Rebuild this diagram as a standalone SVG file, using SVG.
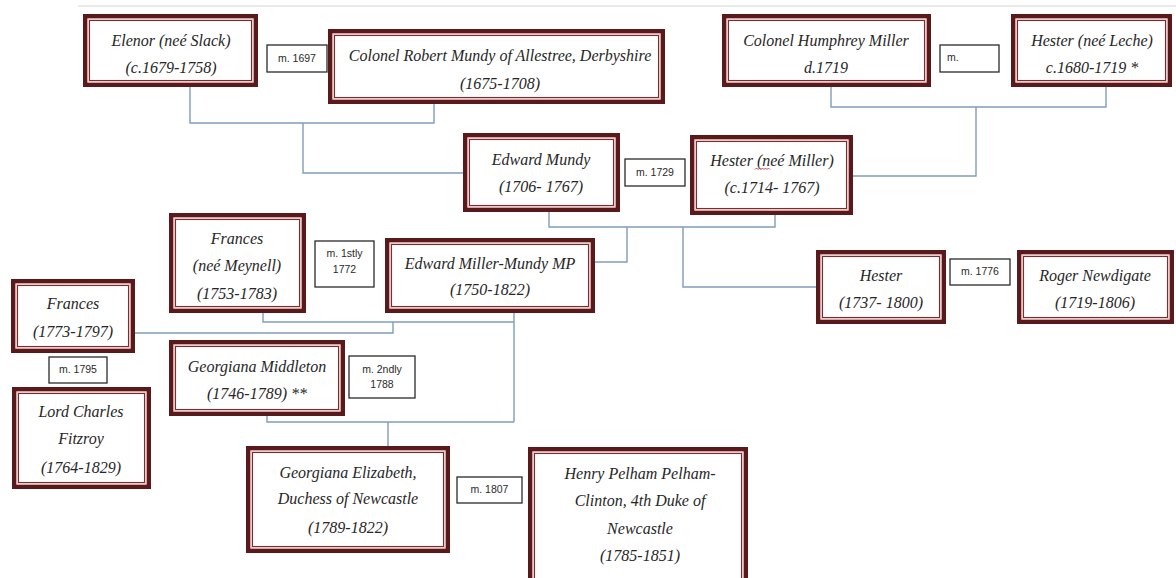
<svg xmlns="http://www.w3.org/2000/svg" width="1176" height="578" viewBox="0 0 1176 578">
<style>
.o{fill:#fff;stroke:#5a1a1c;stroke-width:4.5}
.p{fill:none;stroke:#e4b9b9;stroke-width:1.2}
.m{fill:none;stroke:#7d2c2e;stroke-width:1.1}
.t{font-family:"Liberation Serif","DejaVu Serif",serif;font-style:italic;font-size:16px;fill:#262626;text-anchor:middle;dominant-baseline:central}
.lb{fill:#fff;stroke:#2a2a2a;stroke-width:1.3}
.lt{font-family:"Liberation Sans",Arial,sans-serif;font-size:10.5px;fill:#2a2a2a;text-anchor:middle;dominant-baseline:central}
.c{fill:none;stroke:#7f9dbb;stroke-width:1.4}
</style>
<rect width="1176" height="578" fill="#fff"/>
<line x1="78" y1="6" x2="1176" y2="6" stroke="#d4d4d4" stroke-width="1"/>

<g id="connectors">
<path class="c" d="M190 87V123H434V104M303 123V173H463"/>
<path class="c" d="M831 87V107H1106V87M976 107V176H853"/>
<path class="c" d="M549 212V227H775V215M627 227V262H595M683 227V287H816"/>
<path class="c" d="M263 313V322H514M514 313V422M393 322V333H135"/>
<path class="c" d="M267 416V422H514M388 422V446"/>
</g>

<g id="elenor">
<rect class="o" x="85.25" y="16.25" width="170.5" height="68.5"/><rect class="p" x="88" y="19" width="165" height="63"/><rect class="m" x="89.5" y="20.5" width="162" height="60"/>
<text class="t" x="171" y="40">Elenor (neé Slack)</text><text class="t" x="171" y="67">(c.1679-1758)</text>
</g>
<g id="robert">
<rect class="o" x="330.25" y="31.25" width="332.5" height="70.5"/><rect class="p" x="333" y="34" width="327" height="65"/><rect class="m" x="334.5" y="35.5" width="324" height="62"/>
<text class="t" x="500" y="55">Colonel Robert Mundy of Allestree, Derbyshire</text><text class="t" x="500" y="83">(1675-1708)</text>
</g>
<g id="humphrey">
<rect class="o" x="724.25" y="16.25" width="204.5" height="68.5"/><rect class="p" x="727" y="19" width="199" height="63"/><rect class="m" x="728.5" y="20.5" width="196" height="60"/>
<text class="t" x="826" y="40">Colonel Humphrey Miller</text><text class="t" x="826" y="67">d.1719</text>
</g>
<g id="hester-leche">
<rect class="o" x="1013.25" y="16.25" width="156.5" height="68.5"/><rect class="p" x="1016" y="19" width="151" height="63"/><rect class="m" x="1017.5" y="20.5" width="148" height="60"/>
<text class="t" x="1092" y="40">Hester (neé Leche)</text><text class="t" x="1092" y="67">c.1680-1719 *</text>
</g>
<g id="edward-mundy">
<rect class="o" x="465.25" y="135.25" width="152.5" height="74.5"/><rect class="p" x="468" y="138" width="147" height="69"/><rect class="m" x="469.5" y="139.5" width="144" height="66"/>
<text class="t" x="541" y="159">Edward Mundy</text><text class="t" x="541" y="186">(1706- 1767)</text>
</g>
<g id="hester-miller">
<rect class="o" x="692.25" y="137.25" width="158.5" height="75.5"/><rect class="p" x="695" y="140" width="153" height="70"/><rect class="m" x="696.5" y="141.5" width="150" height="67"/>
<text class="t" x="772" y="160">Hester (neé Miller)</text><text class="t" x="772" y="187">(c.1714- 1767)</text>
<path d="M755 169.5l1.5-1.5 1.5 1.5 1.5-1.5 1.5 1.5 1.5-1.5 1.5 1.5 1.5-1.5 1.5 1.5 1.5-1.5 1.5 1.5" fill="none" stroke="#d63030" stroke-width="0.9"/>
</g>
<g id="frances-meynell">
<rect class="o" x="171.25" y="215.25" width="132.5" height="95.5"/><rect class="p" x="174" y="218" width="127" height="90"/><rect class="m" x="175.5" y="219.5" width="124" height="87"/>
<text class="t" x="237" y="238">Frances</text><text class="t" x="237" y="265">(neé Meynell)</text><text class="t" x="237" y="293">(1753-1783)</text>
</g>
<g id="edward-miller-mundy">
<rect class="o" x="387.25" y="240.25" width="205.5" height="70.5"/><rect class="p" x="390" y="243" width="200" height="65"/><rect class="m" x="391.5" y="244.5" width="197" height="62"/>
<text class="t" x="490" y="263">Edward Miller-Mundy MP</text><text class="t" x="490" y="289">(1750-1822)</text>
</g>
<g id="frances-1773">
<rect class="o" x="13.25" y="281.25" width="119.5" height="69.5"/><rect class="p" x="16" y="284" width="114" height="64"/><rect class="m" x="17.5" y="285.5" width="111" height="61"/>
<text class="t" x="73" y="303">Frances</text><text class="t" x="73" y="331">(1773-1797)</text>
</g>
<g id="hester-1737">
<rect class="o" x="818.25" y="252.25" width="125.5" height="69.5"/><rect class="p" x="821" y="255" width="120" height="64"/><rect class="m" x="822.5" y="256.5" width="117" height="61"/>
<text class="t" x="881" y="275">Hester</text><text class="t" x="881" y="302">(1737- 1800)</text>
</g>
<g id="roger">
<rect class="o" x="1019.25" y="252.25" width="152.5" height="69.5"/><rect class="p" x="1022" y="255" width="147" height="64"/><rect class="m" x="1023.5" y="256.5" width="144" height="61"/>
<text class="t" x="1095" y="275">Roger Newdigate</text><text class="t" x="1095" y="302">(1719-1806)</text>
</g>
<g id="georgiana-middleton">
<rect class="o" x="171.25" y="342.25" width="171.5" height="71.5"/><rect class="p" x="174" y="345" width="166" height="66"/><rect class="m" x="175.5" y="346.5" width="163" height="63"/>
<text class="t" x="257" y="366">Georgiana Middleton</text><text class="t" x="257" y="393">(1746-1789) **</text>
</g>
<g id="lord-charles">
<rect class="o" x="14.25" y="389.25" width="134.5" height="97.5"/><rect class="p" x="17" y="392" width="129" height="92"/><rect class="m" x="18.5" y="393.5" width="126" height="89"/>
<text class="t" x="81" y="411">Lord Charles</text><text class="t" x="81" y="438">Fitzroy</text><text class="t" x="81" y="467">(1764-1829)</text>
</g>
<g id="georgiana-elizabeth">
<rect class="o" x="248.25" y="448.25" width="199.5" height="102.5"/><rect class="p" x="251" y="451" width="194" height="97"/><rect class="m" x="252.5" y="452.5" width="191" height="94"/>
<text class="t" x="348" y="472">Georgiana Elizabeth,</text><text class="t" x="348" y="498">Duchess of Newcastle</text><text class="t" x="348" y="527">(1789-1822)</text>
</g>
<g id="henry">
<rect class="o" x="530.25" y="449.25" width="215.5" height="135"/><rect class="p" x="533" y="452" width="210" height="130"/><rect class="m" x="534.5" y="453.5" width="207" height="127"/>
<text class="t" x="640" y="473">Henry Pelham Pelham-</text><text class="t" x="640" y="500">Clinton, 4th Duke of</text><text class="t" x="640" y="528">Newcastle</text><text class="t" x="640" y="555">(1785-1851)</text>
</g>

<g id="labels">
<rect class="lb" x="267" y="45" width="60" height="27"/><text class="lt" x="297" y="58">m. 1697</text>
<rect class="lb" x="940" y="45" width="59" height="27"/><text class="lt" x="947" y="57" style="text-anchor:start">m.</text>
<rect class="lb" x="625" y="159" width="60" height="27"/><text class="lt" x="655" y="172">m. 1729</text>
<rect class="lb" x="315" y="241" width="59" height="46"/><text class="lt" x="344.5" y="253">m. 1stly</text><text class="lt" x="344.5" y="269">1772</text>
<rect class="lb" x="950" y="259" width="60" height="26"/><text class="lt" x="980" y="271">m. 1776</text>
<rect class="lb" x="49" y="357" width="58" height="26"/><text class="lt" x="78" y="369">m. 1795</text>
<rect class="lb" x="349" y="356" width="66" height="42"/><text class="lt" x="382" y="369">m. 2ndly</text><text class="lt" x="382" y="384">1788</text>
<rect class="lb" x="457" y="477" width="65" height="26"/><text class="lt" x="489.5" y="489">m. 1807</text>
</g>
</svg>
